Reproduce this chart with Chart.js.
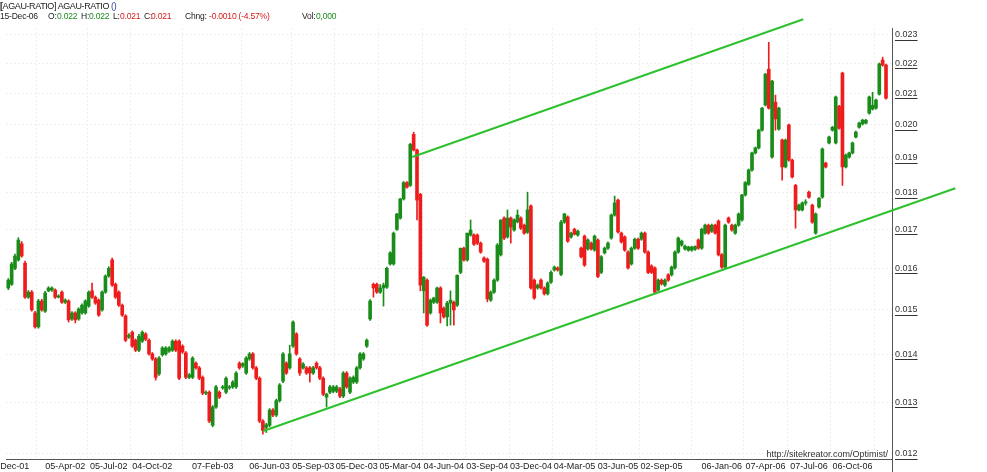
<!DOCTYPE html>
<html>
<head>
<meta charset="utf-8">
<title>AGAU-RATIO</title>
<script src="https://cdn.jsdelivr.net/npm/chart.js@4.4.1/dist/chart.umd.min.js"></script>
<style>
  html, body { margin: 0; padding: 0; background: #fff; }
  #wrap { position: relative; width: 987px; height: 472px; overflow: hidden;
          font-family: "Liberation Sans", Arial, sans-serif; font-size: 9px; color: #222; }
  #chart { position: absolute; left: 0; top: 0; }
  .t { position: absolute; white-space: nowrap; line-height: 11px; }
  .h2 { font-size: 8.5px; letter-spacing: -0.2px; top: 11px; }
  .g { color: #1b8a1b; }
  .r { color: #d41a1a; }
</style>
</head>
<body>
<div id="wrap">
  <canvas id="chart" width="987" height="472"></canvas>
  <div class="t" style="left:0;top:1px;letter-spacing:-0.4px"><b>[</b>AGAU-RATIO] AGAU-RATIO <span style="color:#34429a">()</span></div>
  <div class="t h2" style="left:0">15-Dec-06</div>
  <div class="t h2" style="left:48px">O:</div>
  <div class="t h2 g" style="left:57px">0.022</div>
  <div class="t h2" style="left:81px">H:</div>
  <div class="t h2 g" style="left:89px">0.022</div>
  <div class="t h2" style="left:113px">L:</div>
  <div class="t h2 r" style="left:120px">0.021</div>
  <div class="t h2" style="left:144px">C:</div>
  <div class="t h2 r" style="left:151px">0.021</div>
  <div class="t h2" style="left:185px">Chng:</div>
  <div class="t h2 r" style="left:209px">-0.0010 (-4.57%)</div>
  <div class="t h2" style="left:302px">Vol:</div>
  <div class="t h2 g" style="left:316px">0,000</div>
  <div class="t" style="right:99px;top:449px;color:#333">http://sitekreator.com/Optimist/</div>
</div>
<script>
// Weekly candles from 07-Dec-01 to 15-Dec-06: [open, high, low, close]
const candles = [
  [.01552,.01575,.01548,.01571],[.01561,.01615,.01558,.01611],[.01600,.01636,.01597,.01631],[.01621,.01678,.01618,.01672],
  [.01662,.01668,.01628,.01631],[.01613,.01618,.01527,.01530],[.01530,.01546,.01527,.01542],[.01542,.01546,.01497,.01500],
  [.01493,.01497,.01458,.01461],[.01461,.01525,.01458,.01521],[.01521,.01525,.01497,.01500],[.01497,.01544,.01494,.01540],
  [.01545,.01555,.01543,.01552],[.01547,.01555,.01544,.01552],[.01547,.01550,.01527,.01530],[.01530,.01536,.01528,.01533],
  [.01542,.01545,.01515,.01518],[.01518,.01526,.01515,.01523],[.01521,.01524,.01472,.01477],[.01479,.01496,.01476,.01493],
  [.01493,.01496,.01470,.01477],[.01479,.01505,.01476,.01502],[.01493,.01514,.01490,.01511],[.01493,.01524,.01490,.01521],
  [.01509,.01545,.01506,.01542],[.01545,.01564,.01527,.01530],[.01530,.01533,.01513,.01516],[.01523,.01526,.01485,.01488],
  [.01500,.01545,.01497,.01542],[.01542,.01584,.01539,.01581],[.01581,.01604,.01578,.01600],[.01621,.01626,.01556,.01559],
  [.01561,.01564,.01527,.01530],[.01542,.01545,.01508,.01511],[.01511,.01514,.01485,.01488],[.01486,.01489,.01428,.01431],
  [.01438,.01446,.01435,.01442],[.01449,.01452,.01415,.01418],[.01431,.01434,.01406,.01409],[.01409,.01444,.01406,.01440],
  [.01429,.01452,.01426,.01449],[.01445,.01448,.01430,.01433],[.01431,.01434,.01398,.01401],[.01401,.01404,.01387,.01390],
  [.01390,.01393,.01345,.01351],[.01358,.01395,.01355,.01392],[.01399,.01417,.01396,.01414],[.01401,.01417,.01398,.01414],
  [.01407,.01417,.01404,.01414],[.01409,.01432,.01406,.01429],[.01429,.01432,.01406,.01409],[.01429,.01432,.01346,.01349],
  [.01418,.01421,.01402,.01405],[.01403,.01406,.01348,.01351],[.01351,.01359,.01348,.01356],[.01351,.01395,.01348,.01392],
  [.01381,.01384,.01368,.01371],[.01371,.01374,.01346,.01349],[.01351,.01354,.01315,.01318],[.01318,.01323,.01315,.01320],
  [.01320,.01323,.01259,.01262],[.01254,.01293,.01251,.01290],[.01290,.01334,.01287,.01331],[.01320,.01323,.01307,.01310],
  [.01329,.01334,.01326,.01331],[.01320,.01352,.01317,.01349],[.01329,.01334,.01326,.01331],[.01331,.01344,.01328,.01341],
  [.01331,.01363,.01328,.01360],[.01381,.01384,.01368,.01371],[.01375,.01382,.01372,.01380],[.01360,.01395,.01357,.01392],
  [.01390,.01404,.01387,.01401],[.01401,.01404,.01368,.01371],[.01371,.01374,.01346,.01349],[.01349,.01352,.01259,.01262],
  [.01262,.01265,.01237,.01244],[.01250,.01258,.01240,.01255],[.01254,.01287,.01251,.01284],[.01284,.01287,.01271,.01274],
  [.01274,.01306,.01271,.01303],[.01303,.01338,.01300,.01335],[.01343,.01404,.01340,.01401],[.01381,.01384,.01357,.01360],
  [.01371,.01420,.01368,.01401],[.01418,.01475,.01415,.01472],[.01445,.01448,.01398,.01401],[.01390,.01393,.01355,.01360],
  [.01371,.01382,.01368,.01379],[.01371,.01374,.01357,.01360],[.01371,.01374,.01341,.01360],[.01360,.01374,.01357,.01371],
  [.01381,.01384,.01368,.01371],[.01371,.01374,.01346,.01349],[.01349,.01352,.01313,.01316],[.01310,.01318,.01290,.01316],
  [.01320,.01334,.01317,.01331],[.01322,.01334,.01319,.01331],[.01322,.01334,.01319,.01331],[.01327,.01330,.01309,.01312],
  [.01312,.01363,.01309,.01360],[.01360,.01363,.01328,.01331],[.01320,.01352,.01317,.01349],[.01341,.01354,.01338,.01351],
  [.01341,.01374,.01338,.01371],[.01371,.01404,.01368,.01401],[.01390,.01404,.01387,.01401],[.01418,.01434,.01415,.01431],
  [.01479,.01524,.01476,.01521],[.01561,.01564,.01530,.01552],[.01561,.01564,.01539,.01542],[.01542,.01560,.01539,.01552],
  [.01552,.01564,.01509,.01559],[.01554,.01603,.01551,.01600],[.01611,.01642,.01608,.01639],[.01611,.01693,.01608,.01690],
  [.01700,.01743,.01697,.01741],[.01730,.01784,.01727,.01782],[.01782,.01831,.01779,.01828],[.01828,.01831,.01812,.01815],
  [.01820,.01943,.01817,.01940],[.01970,.01977,.01920,.01923],[.01923,.01926,.01725,.01779],[.01795,.01798,.01545,.01559],
  [.01545,.01580,.01493,.01578],[.01571,.01574,.01462,.01465],[.01493,.01526,.01490,.01523],[.01518,.01530,.01515,.01528],
  [.01518,.01554,.01515,.01552],[.01552,.01555,.01470,.01493],[.01504,.01507,.01481,.01484],[.01484,.01520,.01463,.01516],
  [.01516,.01545,.01465,.01523],[.01518,.01521,.01465,.01500],[.01511,.01584,.01508,.01583],[.01590,.01651,.01587,.01651],
  [.01651,.01654,.01618,.01621],[.01621,.01690,.01618,.01690],[.01685,.01725,.01682,.01698],[.01685,.01688,.01658,.01661],
  [.01685,.01688,.01660,.01664],[.01664,.01667,.01638,.01641],[.01626,.01629,.01615,.01618],[.01623,.01626,.01519,.01526],
  [.01523,.01545,.01520,.01542],[.01542,.01574,.01539,.01571],[.01571,.01663,.01568,.01659],[.01634,.01725,.01631,.01725],
  [.01730,.01733,.01673,.01677],[.01680,.01752,.01677,.01730],[.01730,.01733,.01664,.01706],[.01698,.01728,.01695,.01725],
  [.01720,.01752,.01717,.01738],[.01730,.01733,.01700,.01703],[.01711,.01714,.01687,.01690],[.01692,.01801,.01689,.01752],
  [.01763,.01766,.01549,.01552],[.01571,.01574,.01525,.01528],[.01552,.01562,.01549,.01559],[.01571,.01574,.01549,.01552],
  [.01552,.01555,.01535,.01538],[.01538,.01567,.01535,.01564],[.01566,.01594,.01563,.01590],[.01596,.01606,.01593,.01603],
  [.01601,.01604,.01593,.01596],[.01585,.01724,.01582,.01719],[.01719,.01743,.01716,.01741],[.01733,.01736,.01666,.01669],
  [.01680,.01693,.01677,.01690],[.01700,.01703,.01685,.01687],[.01685,.01698,.01682,.01695],[.01651,.01654,.01626,.01629],
  [.01682,.01685,.01605,.01608],[.01649,.01675,.01646,.01672],[.01664,.01667,.01646,.01649],[.01646,.01685,.01643,.01682],
  [.01672,.01675,.01577,.01580],[.01590,.01632,.01587,.01629],[.01639,.01654,.01636,.01651],[.01651,.01667,.01648,.01664],
  [.01677,.01741,.01674,.01738],[.01738,.01790,.01735,.01771],[.01779,.01782,.01690,.01693],[.01690,.01693,.01664,.01667],
  [.01680,.01683,.01643,.01646],[.01641,.01644,.01598,.01601],[.01611,.01654,.01608,.01651],[.01651,.01677,.01648,.01674],
  [.01674,.01677,.01648,.01651],[.01674,.01693,.01671,.01690],[.01690,.01693,.01638,.01641],[.01641,.01644,.01587,.01590],
  [.01606,.01609,.01587,.01590],[.01601,.01604,.01539,.01542],[.01547,.01574,.01544,.01571],[.01571,.01574,.01559,.01562],
  [.01559,.01574,.01556,.01571],[.01584,.01587,.01568,.01571],[.01584,.01606,.01581,.01603],[.01601,.01644,.01598,.01641],
  [.01641,.01680,.01638,.01677],[.01659,.01672,.01656,.01669],[.01649,.01659,.01646,.01656],[.01646,.01656,.01643,.01654],
  [.01646,.01656,.01643,.01654],[.01648,.01657,.01645,.01655],[.01672,.01675,.01648,.01651],[.01651,.01703,.01648,.01700],
  [.01690,.01714,.01687,.01711],[.01711,.01714,.01687,.01690],[.01695,.01714,.01692,.01711],[.01711,.01714,.01687,.01690],
  [.01722,.01725,.01631,.01634],[.01634,.01637,.01600,.01603],[.01603,.01714,.01600,.01711],[.01730,.01733,.01716,.01719],
  [.01711,.01714,.01695,.01698],[.01690,.01714,.01687,.01711],[.01711,.01744,.01708,.01741],[.01725,.01795,.01722,.01793],
  [.01793,.01831,.01790,.01828],[.01823,.01867,.01820,.01864],[.01864,.01917,.01861,.01914],[.01914,.01932,.01911,.01929],
  [.01929,.01986,.01926,.01983],[.01983,.02055,.01980,.02052],[.02062,.02166,.02059,.02163],[.02180,.02273,.02049,.02052],
  [.01902,.02143,.01899,.02140],[.02071,.02094,.01983,.02018],[.01986,.02055,.01983,.02052],[.01953,.01956,.01835,.01873],
  [.01873,.01956,.01870,.01953],[.01999,.02002,.01890,.01893],[.01893,.01896,.01841,.01844],[.01820,.01823,.01703,.01752],
  [.01752,.01768,.01749,.01765],[.01752,.01774,.01749,.01771],[.01771,.01780,.01765,.01774],[.01801,.01804,.01784,.01787],
  [.01765,.01768,.01716,.01719],[.01690,.01744,.01687,.01741],[.01760,.01786,.01757,.01784],[.01787,.01929,.01784,.01926],
  [.01884,.01887,.01870,.01873],[.01944,.01965,.01941,.01962],[.01983,.01995,.01980,.01992],[.01944,.02091,.01941,.02088],
  [.02058,.02061,.01986,.01989],[.02167,.02170,.01820,.01873],[.01873,.01911,.01870,.01908],[.01902,.01917,.01899,.01914],
  [.01914,.01947,.01911,.01944],[.01962,.01980,.01959,.01977],[.01992,.02008,.01989,.02005],[.02002,.02017,.01999,.02014],
  [.02005,.02017,.02002,.02014],[.02036,.02091,.02033,.02088],[.02049,.02103,.02046,.02061],[.02052,.02081,.02049,.02078],
  [.02097,.02201,.02094,.02198],[.02211,.02221,.02190,.02194],[.02194,.02197,.02081,.02084]
];

// Date labels and the week they sit on
const dateTickIndex = [0, 17, 30, 43, 61, 78, 91, 104, 117, 130, 143, 156, 169, 182, 195, 213, 226, 239, 252];
const dateTickLabels = ['07-Dec-01', '05-Apr-02', '05-Jul-02', '04-Oct-02', '07-Feb-03', '06-Jun-03', '05-Sep-03',
  '05-Dec-03', '05-Mar-04', '04-Jun-04', '03-Sep-04', '03-Dec-04', '04-Mar-05', '03-Jun-05', '02-Sep-05',
  '06-Jan-06', '07-Apr-06', '07-Jul-06', '06-Oct-06'];

// Price axis (log)
const priceTicks = [0.012, 0.013, 0.014, 0.015, 0.016, 0.017, 0.018, 0.019, 0.020, 0.021, 0.022, 0.023];

// Trend channel: [week, price]
const lowerTrend = [[76.1, 0.01243], [282.7, 0.01812]];
const upperTrend = [[120.6, 0.01902], [237.3, 0.02356]];

const upColor = '#1a8c1a';
const downColor = '#ee1c1c';
const trendColor = '#2ec12e';
const fontFamily = '"Liberation Sans", Arial, sans-serif';

const candleColors = candles.map(c => c[3] >= c[0] ? upColor : downColor);
const labelByIndex = {};
dateTickIndex.forEach((v, k) => { labelByIndex[v] = dateTickLabels[k]; });

// Extra drawing: price axis down to the bottom edge, underlined price labels
const axisExtras = {
  id: 'axisExtras',
  afterDraw(chart) {
    const { ctx, chartArea } = chart;
    const y = chart.scales.y;
    ctx.save();
    ctx.lineWidth = 1;
    ctx.strokeStyle = '#555';
    ctx.beginPath();
    ctx.moveTo(chartArea.right + 0.5, chartArea.bottom);
    ctx.lineTo(chartArea.right + 0.5, chart.height);
    ctx.stroke();

    ctx.font = '9px ' + fontFamily;
    ctx.strokeStyle = '#333';
    y.ticks.forEach(t => {
      const py = Math.round(y.getPixelForValue(t.value)) + 5.5;
      const x0 = chartArea.right + 3;
      const w = ctx.measureText(t.value.toFixed(3)).width;
      ctx.beginPath();
      ctx.moveTo(x0, py);
      ctx.lineTo(x0 + w, py);
      ctx.stroke();
    });
    ctx.restore();
  }
};

const chart = new Chart(document.getElementById('chart').getContext('2d'), {
  type: 'bar',
  data: {
    datasets: [
      {
        type: 'line',
        data: lowerTrend.map(p => ({ x: p[0], y: p[1] })),
        borderColor: trendColor,
        borderWidth: 2,
        pointRadius: 0,
        clip: false,
        order: 0
      },
      {
        type: 'line',
        data: upperTrend.map(p => ({ x: p[0], y: p[1] })),
        borderColor: trendColor,
        borderWidth: 2,
        pointRadius: 0,
        clip: false,
        order: 0
      },
      {
        // bodies
        data: candles.map((c, i) => ({ x: i, y: [c[0], c[3]] })),
        backgroundColor: candleColors,
        barThickness: 3,
        minBarLength: 1,
        grouped: false,
        order: 1
      },
      {
        // wicks
        data: candles.map((c, i) => ({ x: i, y: [c[2], c[1]] })),
        backgroundColor: candleColors,
        barThickness: 1,
        minBarLength: 1,
        grouped: false,
        order: 2
      }
    ]
  },
  options: {
    responsive: false,
    animation: false,
    devicePixelRatio: 1,
    layout: { padding: { left: 6, top: 28, right: 0, bottom: 0 } },
    plugins: {
      legend: { display: false },
      tooltip: { enabled: false }
    },
    scales: {
      x: {
        type: 'linear',
        offset: false,
        min: -0.687,
        max: 263.79,
        afterBuildTicks: s => { s.ticks = dateTickIndex.map(v => ({ value: v })); },
        afterFit: s => { s.height = 13; s.paddingLeft = 0; s.paddingRight = 0; },
        grid: { color: '#efefef', drawTicks: false },
        border: { color: '#555', dash: [2, 2] },
        ticks: {
          autoSkip: false,
          maxRotation: 0,
          padding: 2,
          color: '#222',
          font: { family: fontFamily, size: 9 },
          callback: v => labelByIndex[v] || ''
        }
      },
      y: {
        type: 'logarithmic',
        position: 'right',
        min: 0.0119,
        max: 0.02324,
        afterBuildTicks: s => { s.ticks = priceTicks.map(v => ({ value: v })); },
        afterFit: s => { s.width = 95; },
        grid: { color: '#efefef', drawTicks: false },
        border: { color: '#555', dash: [2, 2] },
        ticks: {
          autoSkip: false,
          padding: 3,
          color: '#333',
          font: { family: fontFamily, size: 9 },
          callback: v => Number(v).toFixed(3)
        }
      }
    }
  },
  plugins: [axisExtras]
});
</script>
</body>
</html>
